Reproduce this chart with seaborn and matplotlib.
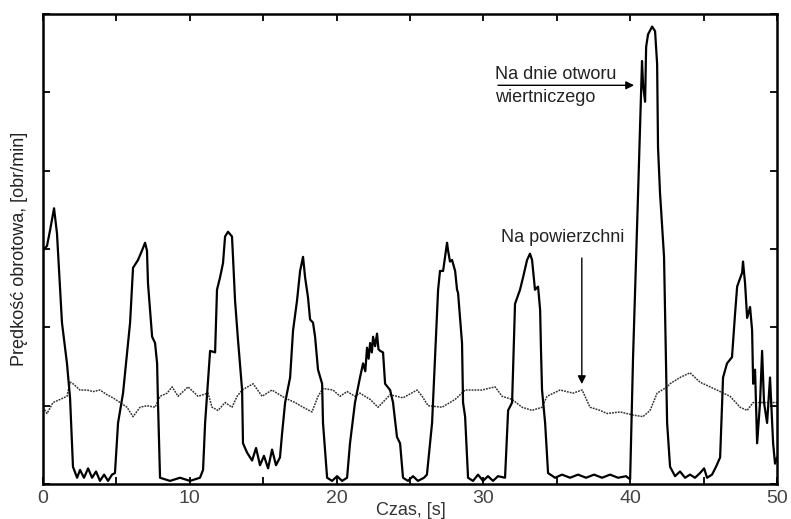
import matplotlib
matplotlib.use("Agg")
import matplotlib.pyplot as plt
from matplotlib.ticker import MultipleLocator, NullFormatter
import seaborn as sns
import pandas as pd

# downhole (bit) rotary speed
bit_t = [0.0, 0.27, 0.48, 0.75, 0.95, 1.29, 1.63, 1.84, 2.04, 2.32, 2.52, 2.79, 3.07, 3.34, 3.61,
         3.88, 4.16, 4.43, 4.70, 4.90, 5.11, 5.45, 5.93, 6.13, 6.47, 6.74, 6.95, 7.08, 7.15, 7.43,
         7.63, 7.77, 7.83, 7.97, 8.65, 9.33, 10.01, 10.69, 10.90, 11.04, 11.38, 11.72, 11.85, 12.06,
         12.26, 12.40, 12.60, 12.87, 12.94, 13.08, 13.28, 13.56, 13.62, 13.90, 14.24, 14.51, 14.78,
         15.05, 15.33, 15.60, 15.87, 16.14, 16.28, 16.49, 16.83, 17.03, 17.30, 17.51, 17.71, 17.85,
         18.05, 18.19, 18.39, 18.53, 18.73, 19.01, 19.07, 19.35, 19.69, 20.03, 20.37, 20.71, 20.91,
         21.25, 21.59, 21.80, 21.95, 22.07, 22.18, 22.28, 22.40, 22.48, 22.62, 22.75, 22.85, 22.96,
         23.16, 23.30, 23.64, 23.84, 24.11, 24.32, 24.52, 24.86, 25.20, 25.54, 25.95, 26.15, 26.50,
         26.70, 26.91, 27.04, 27.25, 27.52, 27.59, 27.72, 27.86, 28.07, 28.20, 28.27, 28.54, 28.61,
         28.75, 28.95, 29.29, 29.63, 29.97, 30.31, 30.65, 30.99, 31.47, 31.68, 31.95, 32.15, 32.49,
         32.70, 32.97, 33.17, 33.31, 33.51, 33.72, 33.86, 33.92, 33.99, 34.20, 34.40, 34.88, 35.35,
         35.90, 36.44, 36.99, 37.53, 38.08, 38.62, 39.17, 39.71, 39.99, 40.19, 40.53, 40.80, 40.87,
         41.01, 41.08, 41.21, 41.49, 41.69, 41.83, 41.89, 42.03, 42.10, 42.30, 42.51, 42.71, 43.05,
         43.39, 43.73, 44.07, 44.41, 44.75, 45.03, 45.23, 45.57, 45.84, 46.12, 46.32, 46.59, 46.93,
         47.14, 47.28, 47.62, 47.68, 47.82, 47.96, 48.16, 48.30, 48.37, 48.50, 48.64, 48.84, 48.98,
         49.11, 49.32, 49.52, 49.73, 49.86, 50.0]
bit_rpm = [149, 152, 162, 176, 160, 103, 77, 55, 11, 4, 9, 4, 10, 4, 8,
           2, 6, 2, 6, 7, 39, 58, 103, 138, 143, 149, 154, 149, 128, 94,
           90, 77, 52, 4, 2, 4, 2, 4, 9, 39, 85, 84, 124, 132,
           141, 158, 161, 158, 145, 117, 92, 60, 26, 20, 15, 23, 12,
           18, 10, 22, 12, 17, 32, 52, 68, 98, 117, 136, 145, 132,
           119, 105, 103, 94, 73, 64, 39, 4, 2, 5, 2, 4, 26,
           52, 68, 77, 72, 87, 80, 90, 84, 94, 88, 96, 86, 85,
           84, 64, 60, 52, 30, 26, 4, 2, 5, 2, 4, 6, 39,
           81, 124, 136, 136, 154, 149, 142, 143, 136, 124, 122, 90, 52,
           43, 4, 2, 6, 2, 5, 2, 5, 4, 47, 52, 115, 124,
           132, 143, 147, 143, 124, 126, 111, 85, 60, 39, 7, 4, 6,
           4, 6, 4, 6, 4, 6, 4, 5, 3, 81, 185, 270, 255,
           244, 279, 287, 292, 289, 268, 215, 185, 175, 145, 39, 11, 5,
           8, 4, 6, 4, 7, 10, 4, 6, 11, 17, 68, 77, 81,
           109, 126, 135, 142, 128, 106, 113, 98, 64, 73, 26, 52, 85,
           52, 39, 68, 26, 13, 17]

# surface rotary speed
top_t = [0.0, 0.27, 0.68, 1.16, 1.63, 1.84, 2.04, 2.52, 3.0, 3.41, 3.88, 4.36, 4.77, 5.25, 5.72,
         6.13, 6.61, 7.08, 7.63, 7.97, 8.45, 8.79, 9.2, 9.88, 10.56, 11.24, 11.51, 11.92, 12.40,
         12.87, 13.22, 13.56, 14.31, 14.92, 15.60, 16.28, 16.69, 17.17, 17.71, 18.32, 18.73, 19.07,
         19.75, 20.23, 20.71, 21.25, 21.59, 22.28, 22.82, 23.64, 24.52, 25.48, 25.82, 26.23, 27.18,
         28.07, 28.75, 29.90, 30.79, 31.27, 31.95, 32.63, 33.31, 33.99, 34.33, 35.22, 36.10, 36.72,
         37.26, 37.94, 38.42, 39.31, 40.19, 40.87, 41.35, 41.83, 42.51, 42.71, 43.39, 44.07, 44.75,
         45.44, 46.12, 46.80, 47.48, 47.96, 48.37, 48.84, 49.52, 50.0]
top_rpm = [49, 45, 52, 54, 56, 65, 64, 60, 60, 59, 60, 57, 55, 52, 49,
           43, 49, 50, 49, 56, 58, 62, 56, 62, 56, 58, 49, 47, 52,
           49, 56, 60, 64, 56, 60, 56, 54, 52, 49, 46, 56, 61,
           60, 56, 59, 56, 58, 54, 49, 57, 55, 60, 56, 50, 49,
           54, 60, 60, 62, 56, 54, 49, 47, 49, 56, 60, 58, 60,
           49, 47, 45, 46, 44, 43, 47, 58, 62, 64, 68, 71, 65,
           62, 59, 56, 49, 47, 52, 52, 52, 52]

x_ticks = [0, 10, 20, 30, 40, 50]

bit = pd.DataFrame({"t": bit_t, "rpm": bit_rpm})
top = pd.DataFrame({"t": top_t, "rpm": top_rpm})

sns.set_style("ticks")
plt.rcParams["font.family"] = ["Liberation Sans", "DejaVu Sans"]

fig = plt.figure(figsize=(7.91, 5.19), dpi=100)
ax = fig.add_axes([0.0544, 0.0674, 0.928, 0.9056])

sns.lineplot(data=top, x="t", y="rpm", ax=ax, color="#333333", linewidth=1.1,
             linestyle=(0, (1.2, 0.7)), estimator=None, sort=False)
sns.lineplot(data=bit, x="t", y="rpm", ax=ax, color="black", linewidth=1.6,
             estimator=None, sort=False)

ax.set_xlim(0, 50)
ax.set_ylim(0, 300)
ax.set_xticks(x_ticks)
ax.set_xticklabels([str(v) for v in x_ticks])
ax.xaxis.set_minor_locator(MultipleLocator(5))
ax.yaxis.set_major_locator(MultipleLocator(50))
ax.yaxis.set_major_formatter(NullFormatter())
ax.tick_params(axis="both", which="both", direction="in", length=5, width=1.3,
               top=True, right=True, colors="black", labelcolor="#444444")
ax.tick_params(axis="x", labelsize=14, pad=4)
for s in ax.spines.values():
    s.set_linewidth(1.8)
    s.set_color("black")

ax.set_ylabel("Prędkość obrotowa, [obr/min]", fontsize=13, color="#222222")
ax.yaxis.set_label_coords(-0.021, 0.5)
ax.set_xlabel("Czas, [s]", fontsize=13, color="#333333")
ax.xaxis.set_label_coords(0.501, -0.038)

ax.annotate("", xy=(40.45, 254.5), xytext=(30.8, 254.5),
            arrowprops=dict(arrowstyle="-|>", color="black", lw=1.0, mutation_scale=12))
ax.text(30.8, 258.5, "Na dnie otworu", fontsize=13, color="#222222", ha="left", va="baseline")
ax.text(30.8, 252, "wiertniczego", fontsize=13, color="#222222", ha="left", va="top")

ax.annotate("", xy=(36.7, 62), xytext=(36.7, 146),
            arrowprops=dict(arrowstyle="-|>", color="black", lw=1.0, mutation_scale=12))
ax.text(35.4, 152, "Na powierzchni", fontsize=13, color="#222222", ha="center", va="bottom")

fig.savefig("out.png", dpi=100)
